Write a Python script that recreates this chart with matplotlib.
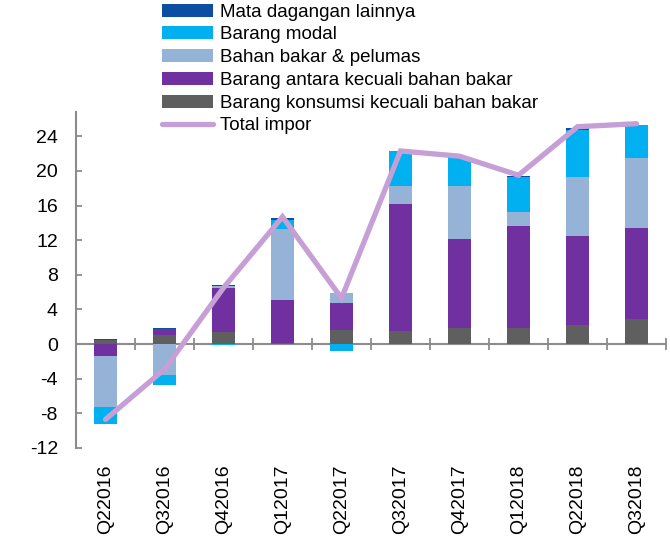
import matplotlib
matplotlib.use("Agg")
import matplotlib.pyplot as plt
import numpy as np

plt.rcParams['font.family'] = ['Liberation Sans', 'DejaVu Sans']

quarters = ["Q22016", "Q32016", "Q42016", "Q12017", "Q22017",
            "Q32017", "Q42017", "Q12018", "Q22018", "Q32018"]

konsumsi = [0.5, 1.0, 1.35, 0.1, 1.6, 1.5, 1.8, 1.9, 2.15, 2.95]
antara = [-1.4, 0.7, 5.15, 5.0, 3.15, 14.7, 10.35, 11.75, 10.35, 10.45]
bahan_bakar = [-5.9, -3.6, 0.15, 8.2, 1.15, 2.1, 6.05, 1.55, 6.75, 8.05]
modal = [-1.9, -1.15, -0.15, 1.05, -0.85, 3.95, 3.4, 4.1, 5.5, 3.8]
lainnya = [0.05, 0.1, 0.15, 0.2, 0.0, 0.05, 0.05, 0.1, 0.15, 0.1]
total = [-8.7, -2.9, 6.5, 14.7, 5.3, 22.3, 21.7, 19.5, 25.1, 25.45]

yticks = [-12, -8, -4, 0, 4, 8, 12, 16, 20, 24]

series = [
    ("Barang konsumsi kecuali bahan bakar", konsumsi, "#5f5f5f"),
    ("Barang antara kecuali bahan bakar", antara, "#7030a0"),
    ("Bahan bakar & pelumas", bahan_bakar, "#95b3d7"),
    ("Barang modal", modal, "#00b0f0"),
    ("Mata dagangan lainnya", lainnya, "#0b4ea2"),
]

fig = plt.figure(figsize=(6.7, 5.44), dpi=100)
ax = fig.add_axes([76/670, 1-448/544, 590/670, 336/544])

x = np.arange(len(quarters))
pos = np.zeros(len(x))
neg = np.zeros(len(x))
handles = {}
for name, vals, col in series:
    v = np.array(vals, dtype=float)
    bottom = np.where(v >= 0, pos, neg)
    b = ax.bar(x, v, width=0.4, bottom=bottom, color=col, edgecolor='none', zorder=2)
    handles[name] = b
    pos = pos + np.where(v >= 0, v, 0)
    neg = neg + np.where(v < 0, v, 0)

line, = ax.plot(x, total, color="#c59fd6", lw=3.8, zorder=4,
                solid_capstyle='round', solid_joinstyle='miter')

ax.set_xlim(-0.5, len(x) - 0.5)
ax.set_ylim(-12, 26.8)
ax.set_yticks(yticks)
ax.set_yticklabels([str(t) for t in yticks], fontsize=14)
ax.tick_params(axis='y', direction='in', length=4.5, width=1.3, color='#8c8c8c', pad=13)

ax.set_xticks(x)
ax.set_xticklabels(quarters, rotation=90, fontsize=14)
ax.tick_params(axis='x', length=0, pad=12)

for s in ['top', 'right', 'bottom']:
    ax.spines[s].set_visible(False)
ax.spines['left'].set_color('#8c8c8c')
ax.spines['left'].set_linewidth(1.5)

sec = ax.secondary_xaxis(0, transform=ax.transData)
sec.set_xticks(np.arange(-0.5, len(x), 1.0))
sec.set_xticklabels([])
sec.tick_params(axis='x', direction='inout', length=8.5, width=1.3, color='#8c8c8c')
sec.spines['bottom'].set_color('#8c8c8c')
sec.spines['bottom'].set_linewidth(1.5)

order = ["Mata dagangan lainnya", "Barang modal", "Bahan bakar & pelumas",
         "Barang antara kecuali bahan bakar", "Barang konsumsi kecuali bahan bakar"]
hl = [handles[n] for n in order] + [line]
ll = order + ["Total impor"]
fig.legend(hl, ll, loc='upper left', bbox_to_anchor=(162/670, 1.0 - 3.5/544),
           frameon=False, fontsize=13.5, handlelength=2.72, handletextpad=0.37,
           labelspacing=0.3, borderpad=0, borderaxespad=0)

fig.savefig("out.png", dpi=100)
